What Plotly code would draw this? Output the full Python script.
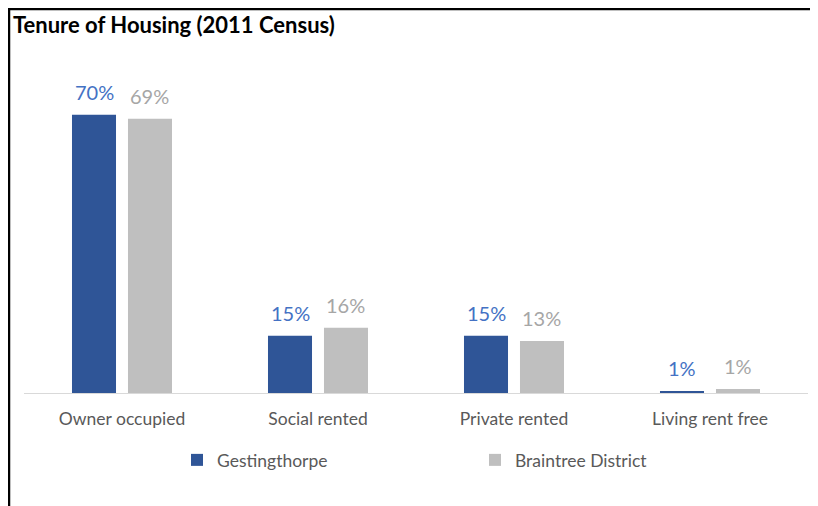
import plotly.graph_objects as go

categories = ["Owner occupied", "Social rented", "Private rented", "Living rent free"]
gest_values = [70.0, 14.4, 14.4, 0.5]
gest_labels = ["70%", "15%", "15%", "1%"]
brain_values = [69.0, 16.4, 13.1, 1.0]
brain_labels = ["69%", "16%", "13%", "1%"]

# page body has an 8px margin, so figure coords = page coords - 8
OFF = 8
W, H = 818 - OFF, 506 - OFF
ml, mr, mt, mb = 24 - OFF, 10, 75 - OFF, 506 - 393
pw = W - ml - mr
ph = H - mt - mb

def px_x(x):
    return (x - OFF - ml) / pw

def px_y(y):
    return (H - mb - (y - OFF)) / ph

font_family = "Lato, 'Open Sans', sans-serif"

BARGAP = 0.4286
BARGROUPGAP = 0.214
# pixel offset of each bar's centre from its category centre
cat_px = pw / len(categories)
slot_px = cat_px * (1 - BARGAP) / 2

fig = go.Figure()
series = [
    ("Gestingthorpe", gest_values, gest_labels, "#2f5597", "#4472c4", -slot_px / 2),
    ("Braintree District", brain_values, brain_labels, "#bfbfbf", "#a6a6a6", slot_px / 2),
]
annotations = []
for name, vals, labels, bar_col, txt_col, shift in series:
    fig.add_trace(go.Bar(
        name=name, x=categories, y=vals,
        marker=dict(color=bar_col, line=dict(width=0)),
    ))
    for c, v, t in zip(categories, vals, labels):
        annotations.append(dict(
            x=c, y=v, xref="x", yref="y", text=t, showarrow=False,
            xshift=shift, yshift=23, yanchor="middle", xanchor="center",
            font=dict(color=txt_col, size=20, family=font_family),
        ))

fig.update_layout(
    width=W, height=H,
    margin=dict(l=ml, r=mr, t=mt, b=mb),
    paper_bgcolor="white", plot_bgcolor="white",
    barmode="group", bargap=BARGAP, bargroupgap=BARGROUPGAP,
    font=dict(family=font_family, color="#595959", size=17.5),
    title=dict(text="<b>Tenure of Housing (2011 Census)</b>", x=(13 - OFF) / W, xanchor="left",
               xref="container", pad=dict(l=0),
               y=1 - (25 - OFF) / H, yanchor="middle",
               font=dict(size=22, color="black", family=font_family)),
    xaxis=dict(showline=True, linecolor="#d9d9d9", linewidth=1, ticks="",
               tickfont=dict(size=17.5, color="#595959"), showgrid=False,
               ticklabelstandoff=10),
    yaxis=dict(range=[0, 80], visible=False, showgrid=False),
    legend=dict(orientation="h", x=px_x(196 - 19), xanchor="left", y=px_y(460), yanchor="middle",
                entrywidth=253, entrywidthmode="pixels", traceorder="normal",
                font=dict(size=17.5, color="#595959")),
    showlegend=True,
    annotations=annotations,
    shapes=[
        dict(type="line", xref="paper", yref="paper", x0=px_x(8), x1=px_x(818),
             y0=px_y(9), y1=px_y(9), line=dict(color="black", width=2.5)),
        dict(type="line", xref="paper", yref="paper", x0=px_x(9), x1=px_x(9),
             y0=px_y(9), y1=px_y(506), line=dict(color="black", width=2.5)),
    ],
)

fig.write_html("out.html")
